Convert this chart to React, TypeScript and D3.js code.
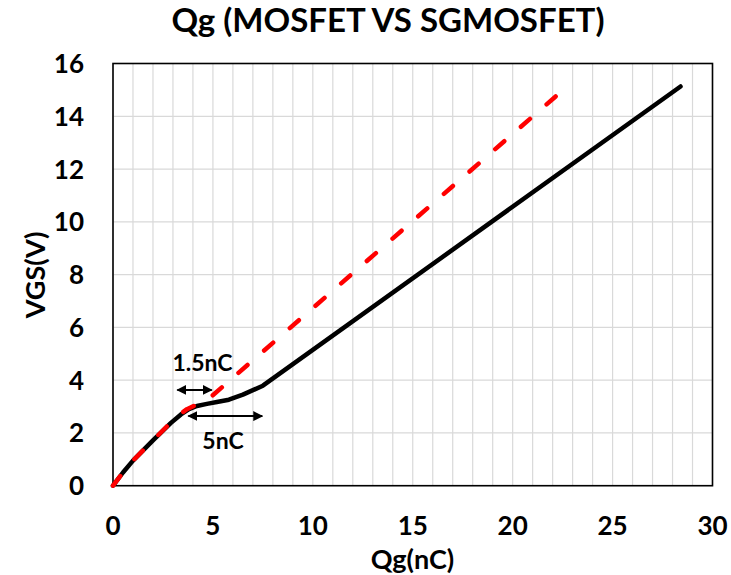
import React from "react";
import * as d3 from "d3";

// Gate charge curves: VGS (V) against Qg (nC)
const mosfetQg = [0, 0.5, 1, 2, 2.9, 3.4, 3.8, 4.2, 4.7, 5.2, 5.8, 6.5, 7.5, 28.4];
const mosfetVgs = [0, 0.5, 0.95, 1.72, 2.38, 2.7, 2.9, 3.02, 3.1, 3.17, 3.26, 3.45, 3.79, 15.13];

const sgmosfetQg = [0, 0.5, 1, 2, 2.9, 3.3, 3.7, 4.2, 4.8, 22.15];
const sgmosfetVgs = [0, 0.5, 0.95, 1.72, 2.4, 2.68, 2.9, 3.08, 3.3, 14.75];

const xTicks = [0, 5, 10, 15, 20, 25, 30];
const yTicks = [0, 2, 4, 6, 8, 10, 12, 14, 16];

// Annotated charge spans: [from, to, at VGS]
const spanShort = [3.22, 4.94, 3.63];
const spanLong = [3.77, 7.47, 2.64];

const W = 731;
const H = 575;
const plot = { left: 113, top: 63.5, right: 712.5, bottom: 485.7 };
const font = "Lato, 'Open Sans', sans-serif";
const dash = 12;
const nominalGap = 23;

export default function App() {
  const x = d3.scaleLinear().domain([0, 30]).range([plot.left, plot.right]);
  const y = d3.scaleLinear().domain([0, 16]).range([plot.bottom, plot.top]);

  const line = d3
    .line<[number, number]>()
    .x((d) => x(d[0]))
    .y((d) => y(d[1]))
    .curve(d3.curveLinear);

  const mosfet = mosfetQg.map((q, i) => [q, mosfetVgs[i]] as [number, number]);
  const sgmosfet = sgmosfetQg.map((q, i) => [q, sgmosfetVgs[i]] as [number, number]);

  // screen length of the dashed polyline, so the dashes start and finish on its end points
  let redLength = 0;
  for (let i = 1; i < sgmosfet.length; i++) {
    redLength += Math.hypot(
      x(sgmosfet[i][0]) - x(sgmosfet[i - 1][0]),
      y(sgmosfet[i][1]) - y(sgmosfet[i - 1][1])
    );
  }
  const periods = Math.max(1, Math.round((redLength - dash) / (dash + nominalGap)));
  const gap = (redLength - dash) / periods - dash;

  const vGrid = d3.range(0, 31, 1);
  const hGrid = d3.range(0, 17, 2);

  const arrow = (span: number[], key: string) => (
    <line
      key={key}
      x1={x(span[0])}
      x2={x(span[1])}
      y1={y(span[2])}
      y2={y(span[2])}
      stroke="#000"
      strokeWidth={2}
      markerStart="url(#arrowStart)"
      markerEnd="url(#arrowEnd)"
    />
  );

  return (
    <svg
      width={W}
      height={H}
      style={{ position: "absolute", left: 0, top: 0, background: "#fff" }}
      fontFamily={font}
      fontWeight="bold"
    >
      <defs>
        <marker id="arrowEnd" viewBox="0 0 10 10" refX="9" refY="5" markerWidth="5" markerHeight="5" orient="auto" markerUnits="strokeWidth">
          <path d="M0,0 L10,5 L0,10 z" fill="#000" />
        </marker>
        <marker id="arrowStart" viewBox="0 0 10 10" refX="1" refY="5" markerWidth="5" markerHeight="5" orient="auto" markerUnits="strokeWidth">
          <path d="M10,0 L0,5 L10,10 z" fill="#000" />
        </marker>
      </defs>

      {vGrid.map((q) => (
        <line key={"v" + q} x1={x(q)} x2={x(q)} y1={plot.top} y2={plot.bottom} stroke="#d9d9d9" strokeWidth={1.2} />
      ))}
      {hGrid.map((v) => (
        <line key={"h" + v} x1={plot.left} x2={plot.right} y1={y(v)} y2={y(v)} stroke="#d9d9d9" strokeWidth={1.2} />
      ))}

      <rect
        x={plot.left}
        y={plot.top}
        width={plot.right - plot.left}
        height={plot.bottom - plot.top}
        fill="none"
        stroke="#000"
        strokeWidth={1.6}
      />

      <path d={line(mosfet) ?? ""} fill="none" stroke="#000" strokeWidth={4.5} strokeLinecap="round" strokeLinejoin="round" />
      <path
        d={line(sgmosfet) ?? ""}
        fill="none"
        stroke="#ff0000"
        strokeWidth={4.5}
        strokeDasharray={`${dash} ${gap}`}
        strokeLinecap="round"
        strokeLinejoin="round"
      />

      {arrow(spanShort, "short")}
      {arrow(spanLong, "long")}
      <text x={202.5} y={370.5} fontSize={23} textAnchor="middle" fill="#000">
        1.5nC
      </text>
      <text x={223} y={449} fontSize={23} textAnchor="middle" fill="#000">
        5nC
      </text>

      {xTicks.map((q) => (
        <text key={"xt" + q} x={x(q)} y={535} fontSize={26} textAnchor="middle" fill="#000">
          {q}
        </text>
      ))}
      {yTicks.map((v) => (
        <text key={"yt" + v} x={84} y={y(v) + 9.5} fontSize={26} textAnchor="end" fill="#000">
          {v}
        </text>
      ))}

      <text x={388} y={31.5} fontSize={33} textAnchor="middle" fill="#000">
        Qg (MOSFET VS SGMOSFET)
      </text>
      <text x={412.5} y={569} fontSize={27} textAnchor="middle" fill="#000">
        Qg(nC)
      </text>
      <text transform="translate(45,275) rotate(-90)" fontSize={27} textAnchor="middle" fill="#000">
        VGS(V)
      </text>
    </svg>
  );
}
